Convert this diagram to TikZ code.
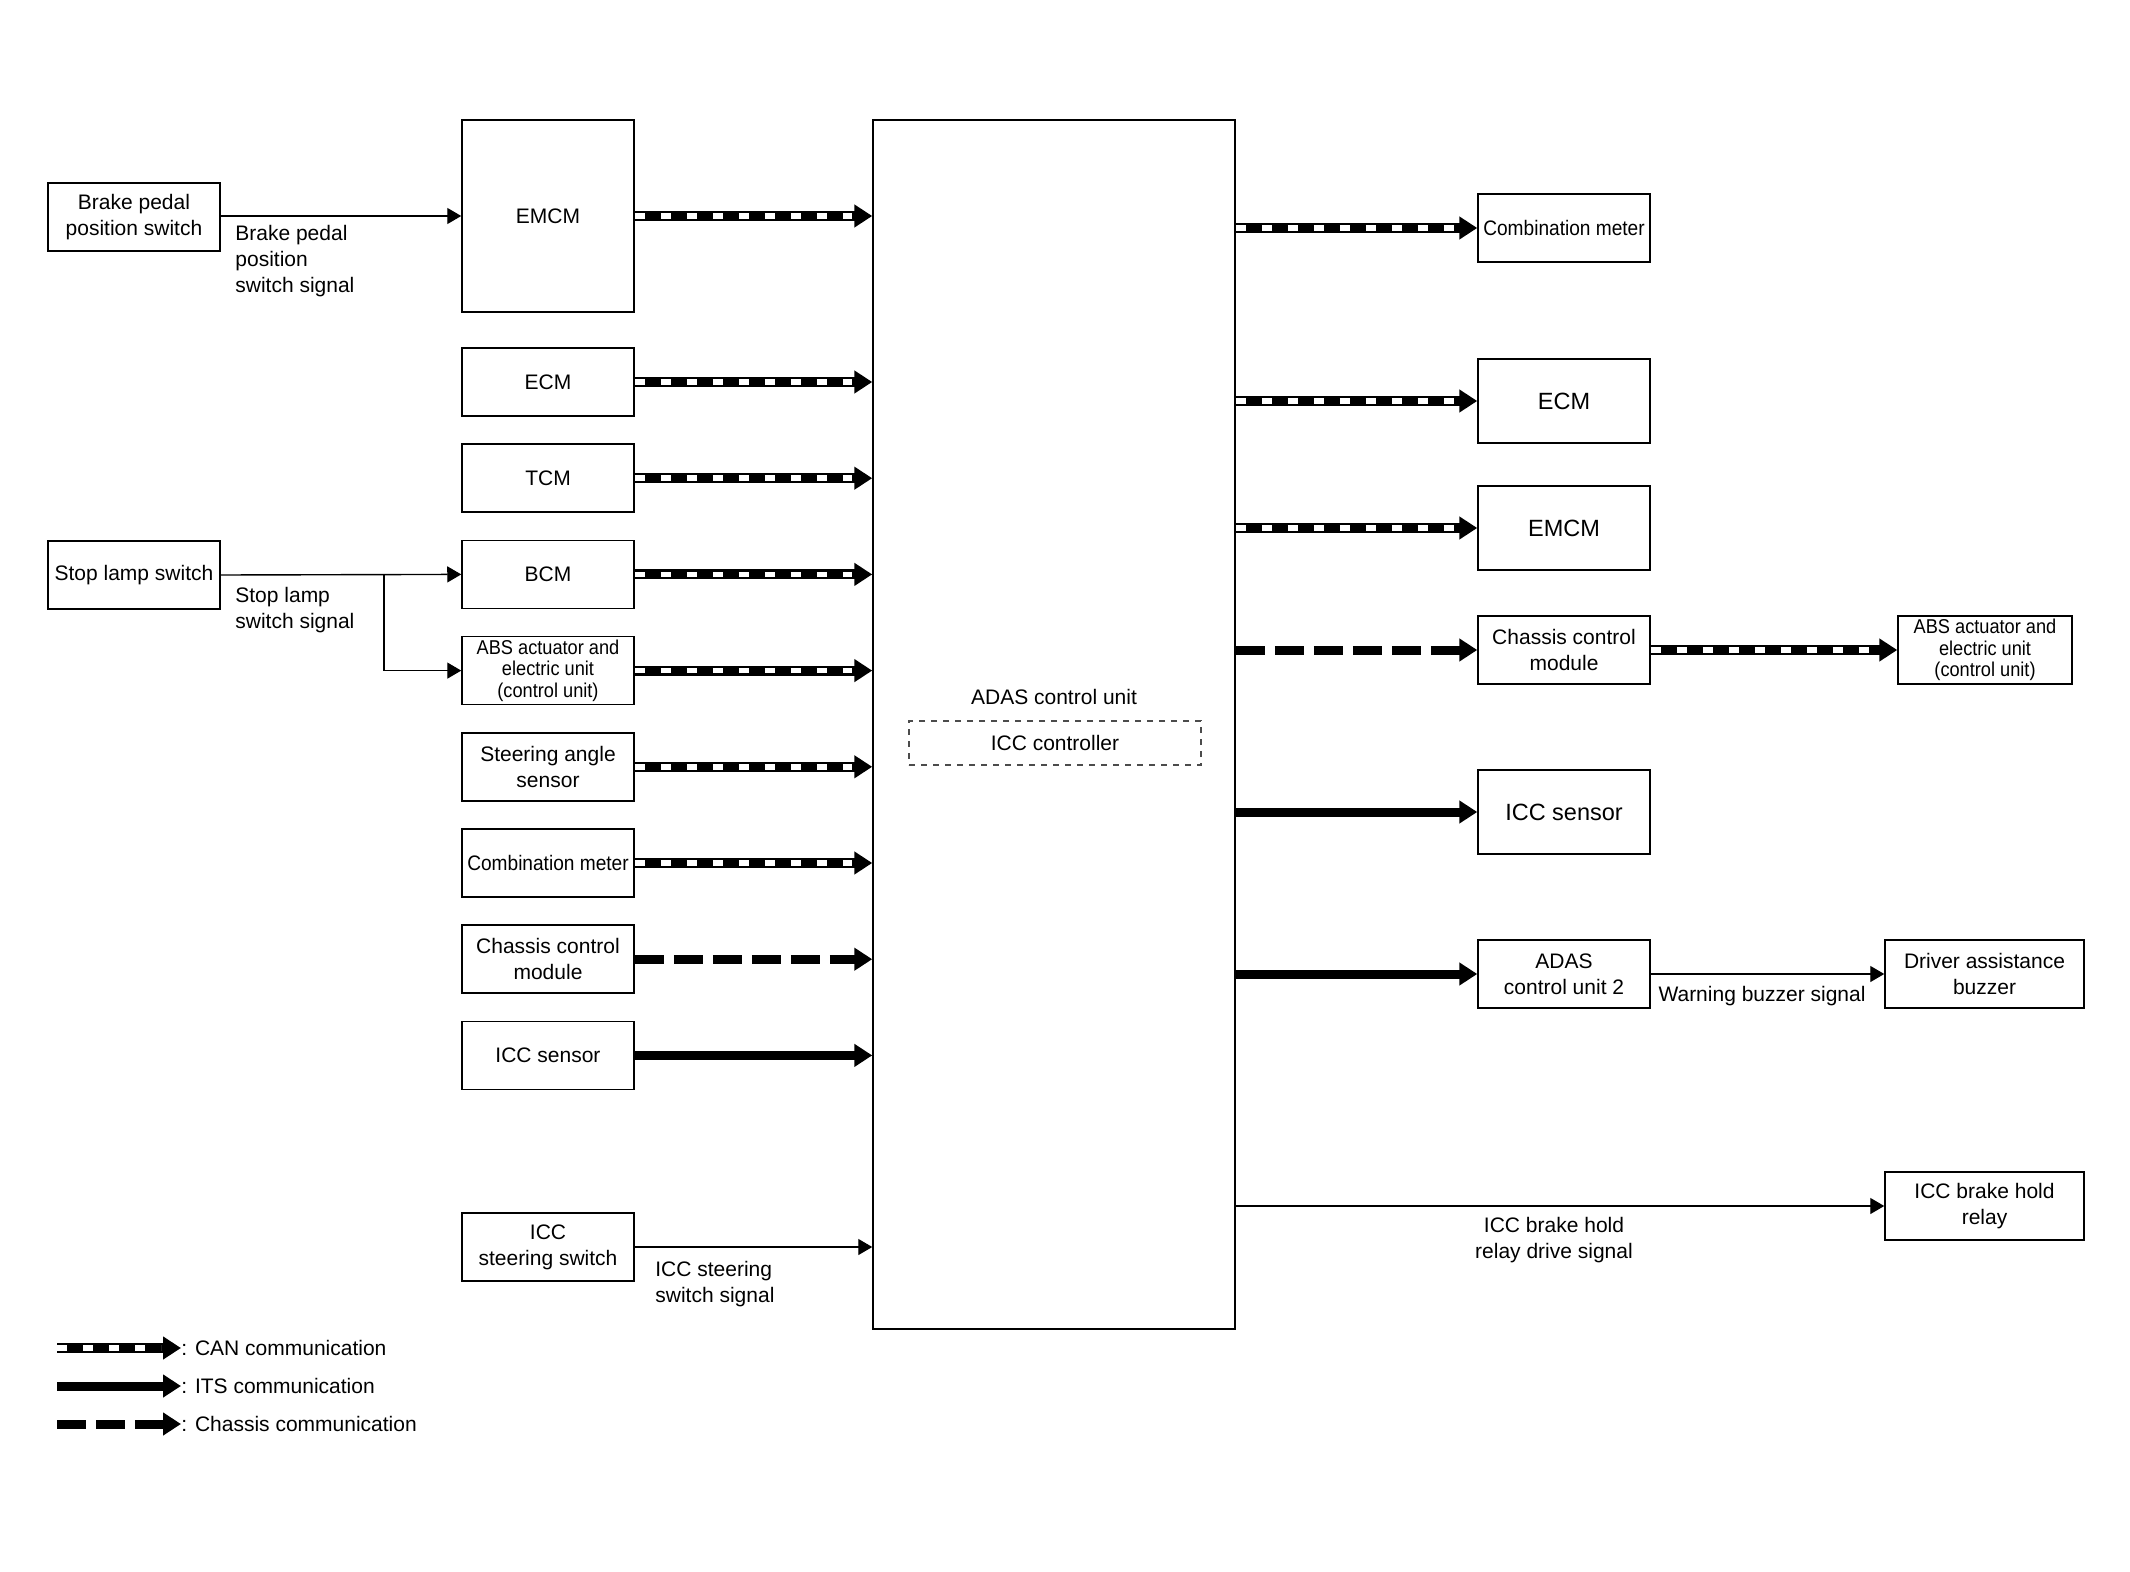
\documentclass[tikz,border=0pt]{standalone}
\usepackage{fontspec}
\setmainfont{Liberation Sans}
\newfontfamily\condfont[FakeStretch=0.91]{Liberation Sans}
\usetikzlibrary{arrows.meta}
\tikzset{
 box/.style={draw, line width=0.75pt, minimum width=86pt, minimum height=34pt, align=center, inner sep=0pt, font=\fontsize{10.5}{13}\selectfont},
 absbox/.style={box, font=\fontsize{10}{10.8}\selectfont\condfont},
 bigbox/.style={box, minimum height=42pt, font=\fontsize{11.75}{14}\selectfont},
 lbl/.style={inner sep=0pt, font=\fontsize{10.5}{13}\selectfont},
 thinarrow/.style={line width=0.7pt, -{Triangle[length=7pt,width=8pt]}},
 can/.style={line width=5pt, -{Triangle[length=9pt,width=11pt]}, postaction={draw=white, line width=2.8pt, dash pattern=on 5pt off 8pt, shorten >=10pt, arrows=-}},
 its/.style={line width=4.5pt, -{Triangle[length=9pt,width=11pt]}},
 chas/.style={line width=4.5pt, dash pattern=on 14.5pt off 5pt, -{Triangle[length=9pt,width=11pt]}},
}
\begin{document}
\begin{tikzpicture}[x=0.5pt,y=-0.5pt]
\useasboundingbox[fill=white] (0,0) rectangle (2130,1572);

% central unit
\node[draw, line width=0.75pt, minimum width=181pt, minimum height=604.5pt, inner sep=0pt] (adas) at (1054,724.5) {};
\node[lbl] (adastxt) at (1054,697) {ADAS control unit};
\node[draw=black!70, dashed, line width=0.6pt, minimum width=146pt, minimum height=22pt, lbl] (iccc) at (1055,743) {ICC controller};

% left inputs
\node[box] (bpps) at (134,217) {Brake pedal\\position switch};
\node[box] (sls) at (134,575) {Stop lamp switch};

\node[box, minimum height=96pt] (emcmL) at (548,216) {EMCM};
\node[box] (ecmL) at (548,382) {ECM};
\node[box] (tcmL) at (548,478.2) {TCM};
\node[box] (bcmL) at (548,574.4) {BCM};
\node[absbox] (absL) at (548,670.6) {ABS actuator and\\electric unit\\(control unit)};
\node[box] (saL) at (548,766.8) {Steering angle\\sensor};
\node[box] (cmL) at (548,863) {\condfont Combination meter};
\node[box] (ccmL) at (548,959.2) {Chassis control\\module};
\node[box] (iccsL) at (548,1055.4) {ICC sensor};
\node[box] (iccsw) at (548,1247) {ICC\\steering switch};

% right outputs
\node[box] (cmR) at (1564,228) {\condfont Combination meter};
\node[bigbox] (ecmR) at (1564,401) {ECM};
\node[bigbox] (emcmR) at (1564,528) {EMCM};
\node[box] (ccmR) at (1564,650) {Chassis control\\module};
\node[bigbox] (iccsR) at (1564,812) {ICC sensor};
\node[box] (adas2) at (1564,974) {ADAS\\control unit 2};
\node[absbox, minimum width=87pt] (absR) at (1985,650) {ABS actuator and\\electric unit\\(control unit)};
\node[box, minimum width=99.5pt] (buzz) at (1984.5,974) {Driver assistance\\buzzer};
\node[box, minimum width=99.5pt] (relay) at (1984.5,1206) {ICC brake hold\\relay};

% thin signals
\draw[thinarrow] (bpps.east |- emcmL.west) -- (emcmL.west);
\node[lbl, anchor=west, align=left] (bppslbl) at (235,261) {Brake pedal\\position\\switch signal};
\draw[thinarrow] (sls.east) -- (bcmL.west);
\coordinate (br) at (384,574.4);
\draw[thinarrow] (br) |- (absL.west);
\node[lbl, anchor=west, align=left] (slslbl) at (235,610.5) {Stop lamp\\switch signal};
\draw[thinarrow] (iccsw.east) -- (iccsw.east -| adas.west);
\node[lbl, anchor=west, align=left] (iccswlbl) at (655,1284.5) {ICC steering\\switch signal};
\draw[thinarrow] (adas2.east) -- (buzz.west);
\node[lbl] (wbs) at (1762,996.5) {Warning buzzer signal};
\draw[thinarrow] (relay.west -| adas.east) -- (relay.west);
\node[lbl, align=center] (relaylbl) at (1554,1240.5) {ICC brake hold\\relay drive signal};

% CAN left
\foreach \n in {emcmL,ecmL,tcmL,bcmL,absL,saL,cmL}{
  \draw[can] (\n.east) -- (\n.east -| adas.west);
}
\draw[chas] (ccmL.east) -- (ccmL.east -| adas.west);
\draw[its] (iccsL.east) -- (iccsL.east -| adas.west);

% right
\foreach \n in {cmR,ecmR,emcmR}{
  \draw[can] (\n.west -| adas.east) -- (\n.west);
}
\draw[chas] (ccmR.west -| adas.east) -- (ccmR.west);
\draw[its] (iccsR.west -| adas.east) -- (iccsR.west);
\draw[its] (adas2.west -| adas.east) -- (adas2.west);
\draw[can] (ccmR.east) -- (absR.west);

% legend
\coordinate (l1a) at (57,1348); \coordinate (l1b) at (181,1348);
\coordinate (l2a) at (57,1386); \coordinate (l2b) at (181,1386);
\coordinate (l3a) at (57,1424); \coordinate (l3b) at (181,1424);
\draw[can] (l1a) -- (l1b);
\draw[its] (l2a) -- (l2b);
\draw[chas] (l3a) -- (l3b);
\node[lbl, anchor=west] (lg1) at (l1b) {: CAN communication};
\node[lbl, anchor=west] (lg2) at (l2b) {: ITS communication};
\node[lbl, anchor=west] (lg3) at (l3b) {: Chassis communication};
\end{tikzpicture}
\end{document}
